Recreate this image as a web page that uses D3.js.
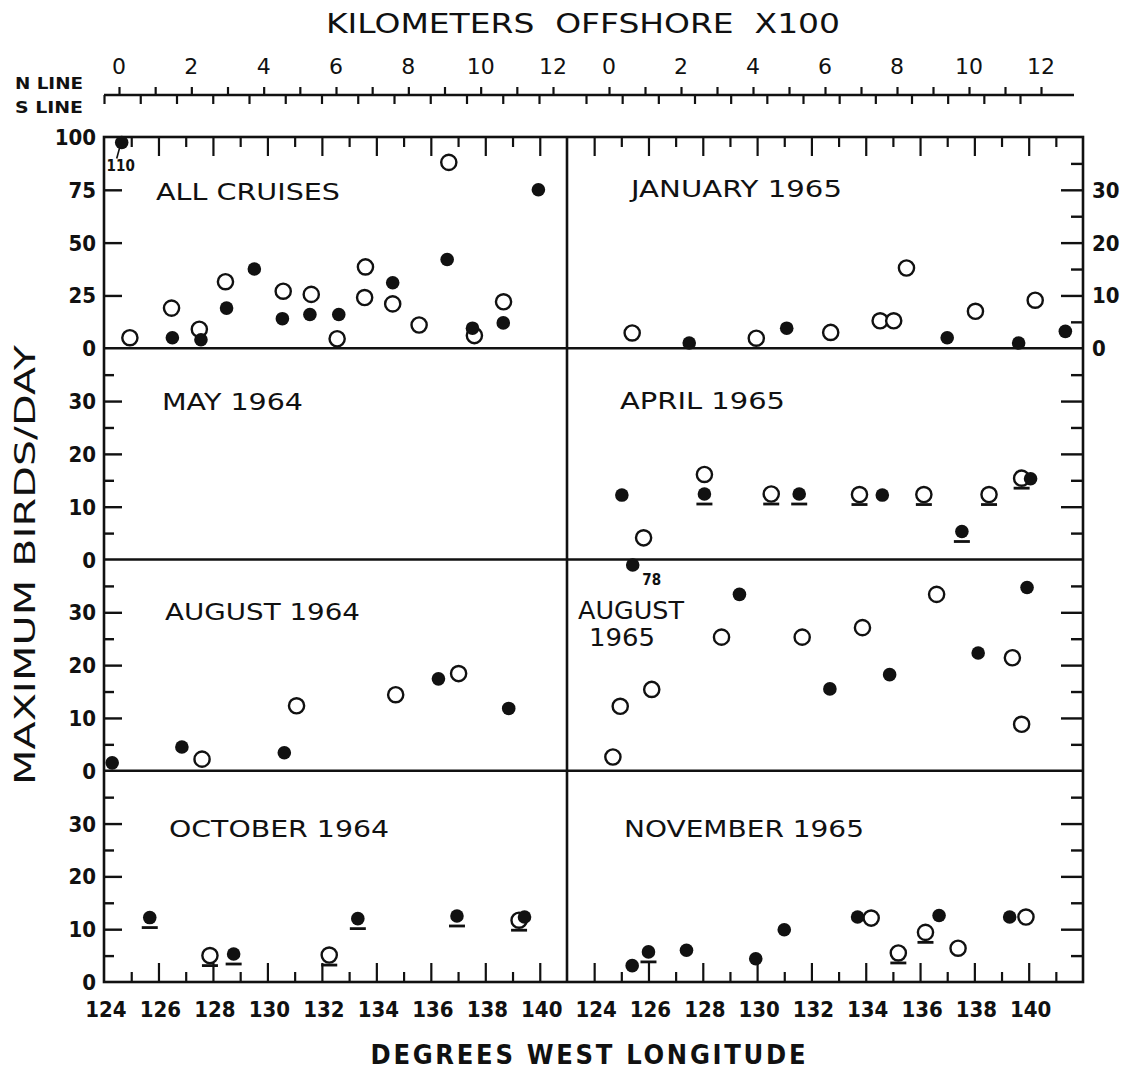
<!DOCTYPE html>
<html><head><meta charset="utf-8">
<script src="https://cdn.jsdelivr.net/npm/d3@7/dist/d3.min.js"></script>
<style>
html,body{margin:0;padding:0;background:#fff}
svg{display:block}
.cond{font-family:"DejaVu Sans Condensed","Liberation Sans Narrow","DejaVu Sans",sans-serif;font-stretch:condensed;font-weight:bold;fill:#111}
.thin{font-family:"DejaVu Sans","Liberation Sans",sans-serif;font-weight:normal;fill:#111}
</style></head><body>
<svg id="c" width="1129" height="1072" xmlns="http://www.w3.org/2000/svg"></svg>
<script>
// ---------------- DATA ----------------
// point: [degrees west longitude, maximum birds/day, symbol ('o' open / 'f' filled), underline bar (1/0)]
const allCruises = [
  [124.65,110,'f',0],[124.95,5,'o',0],[126.48,19,'o',0],[126.51,5,'f',0],
  [127.50,9,'o',0],[127.56,4,'f',0],[128.46,31.5,'o',0],[128.50,19,'f',0],
  [129.52,37.5,'f',0],[130.58,27,'o',0],[130.55,14,'f',0],[131.61,25.5,'o',0],
  [131.56,16,'f',0],[132.62,16,'f',0],[132.56,4.5,'o',0],[133.60,38.5,'o',0],
  [133.57,24,'o',0],[134.60,31,'f',0],[134.60,21,'o',0],[135.57,11,'o',0],
  [136.66,88,'o',0],[136.60,42,'f',0],[137.53,9.5,'f',0],[137.60,6,'o',0],
  [138.67,22,'o',0],[138.66,12,'f',0],[139.95,75,'f',0]
];
const january1965 = [
  [125.40,2.9,'o',0],[127.50,1.0,'f',0],[129.97,1.9,'o',0],[131.09,3.8,'f',0],
  [132.71,3.0,'o',0],[134.53,5.2,'o',0],[135.03,5.2,'o',0],[135.50,15.2,'o',0],
  [137.0,2.0,'f',0],[138.04,7.0,'o',0],[139.63,1.0,'f',0],[140.24,9.1,'o',0],
  [141.35,3.2,'f',0]
];
const may1964 = [];
const april1965 = [
  [125.02,12.2,'f',0],[125.82,4.1,'o',0],[128.06,16.1,'o',0],[128.06,12.4,'f',1],
  [130.52,12.4,'o',1],[131.55,12.4,'f',1],[133.77,12.3,'o',1],[134.61,12.2,'f',0],
  [136.14,12.3,'o',1],[137.54,5.3,'f',1],[138.54,12.3,'o',1],[139.74,15.4,'o',1],
  [140.07,15.3,'f',0]
];
const august1964 = [
  [124.30,1.5,'f',0],[126.86,4.5,'f',0],[127.60,2.2,'o',0],[130.62,3.4,'f',0],
  [131.07,12.3,'o',0],[134.71,14.4,'o',0],[136.28,17.4,'f',0],[137.02,18.4,'o',0],
  [138.86,11.8,'f',0]
];
const august1965 = [
  [125.42,78,'f',0],[129.35,33.4,'f',0],[136.61,33.4,'o',0],[139.94,34.7,'f',0],
  [128.69,25.3,'o',0],[131.66,25.3,'o',0],[133.88,27.1,'o',0],[138.14,22.3,'f',0],
  [139.40,21.4,'o',0],[134.88,18.2,'f',0],[132.68,15.5,'f',0],[126.12,15.4,'o',0],
  [124.96,12.2,'o',0],[139.74,8.8,'o',0],[124.69,2.6,'o',0]
];
const october1964 = [
  [125.68,12.2,'f',1],[127.89,5.0,'o',1],[128.76,5.3,'f',1],[132.27,5.1,'o',1],
  [133.32,12.0,'f',1],[136.96,12.5,'f',1],[139.24,11.7,'o',1],[139.44,12.3,'f',0]
];
const november1965 = [
  [125.40,3.1,'f',0],[126.0,5.7,'f',1],[127.40,6.0,'f',0],[129.95,4.4,'f',0],
  [131.0,9.9,'f',0],[133.70,12.3,'f',0],[134.20,12.1,'o',0],[135.20,5.5,'o',1],
  [136.20,9.4,'o',1],[136.70,12.6,'f',0],[137.40,6.4,'o',0],[139.30,12.3,'f',0],
  [139.90,12.3,'o',0]
];
const panelTitles = ["ALL CRUISES","JANUARY 1965","MAY 1964","APRIL 1965","AUGUST 1964",["AUGUST","1965"],"OCTOBER 1964","NOVEMBER 1965"];
const lonTickLabels = [124,126,128,130,132,134,136,138,140];
const kmTickLabels = [0,2,4,6,8,10,12];
const allCruisesTickLabels = [0,25,50,75,100];
const monthTickLabels = [0,10,20,30];
const januaryRightTickLabels = [0,10,20,30];

// ---------------- LAYOUT ----------------
const svg = d3.select('#c');
const L=104, D=567, R=1083, T=137, B=982, H=(B-T)/4;
const xL = d3.scaleLinear().domain([124,141]).range([L,D]);
const xR = d3.scaleLinear().domain([123,142]).range([D,R]);
const rowTop = i => T + i*H;
const yScale = (row,max) => d3.scaleLinear().domain([0,max]).range([rowTop(row)+H,rowTop(row)]);
const INK = '#111';

const panels = [
  {data:allCruises,  row:0,col:0,max:100,title:panelTitles[0],tx:156,ty:200,tw:184},
  {data:january1965, row:0,col:1,max:40, title:panelTitles[1],tx:631,ty:197,tw:211},
  {data:may1964,     row:1,col:0,max:40, title:panelTitles[2],tx:162,ty:410,tw:141},
  {data:april1965,   row:1,col:1,max:40, title:panelTitles[3],tx:620,ty:409,tw:165},
  {data:august1964,  row:2,col:0,max:40, title:panelTitles[4],tx:165,ty:620,tw:195},
  {data:august1965,  row:2,col:1,max:40, title:panelTitles[5],tx:578,ty:619,tw:106},
  {data:october1964, row:3,col:0,max:40, title:panelTitles[6],tx:169,ty:837,tw:220},
  {data:november1965,row:3,col:1,max:40, title:panelTitles[7],tx:624,ty:837,tw:240}
];

// ---------- frame ----------
const frame = svg.append('g').attr('stroke',INK).attr('fill','none').attr('stroke-width',2.6);
frame.append('rect').attr('x',L).attr('y',T).attr('width',R-L).attr('height',B-T);
frame.append('line').attr('x1',D).attr('x2',D).attr('y1',T).attr('y2',B);
[1,2,3].forEach(i=>frame.append('line').attr('x1',L).attr('x2',R).attr('y1',rowTop(i)).attr('y2',rowTop(i)));

// ---------- longitude ticks (top & bottom, inside) ----------
function lonTicks(scale, vals){
  const gb = svg.append('g').attr('transform',`translate(0,${B})`)
    .call(d3.axisTop(scale).tickValues(vals).tickSize(19).tickFormat(''));
  gb.select('.domain').remove();
  gb.selectAll('.tick line').attr('y2',d=>d%2?-10:-19).attr('stroke',INK).attr('stroke-width',2.2);
  const gt = svg.append('g').attr('transform',`translate(0,${T})`)
    .call(d3.axisBottom(scale).tickValues(vals).tickSize(19).tickFormat(''));
  gt.select('.domain').remove();
  gt.selectAll('.tick line').attr('y2',d=>d%2?10:19).attr('stroke',INK).attr('stroke-width',2.2);
}
lonTicks(xL, d3.range(125,141));
lonTicks(xR, d3.range(124,142));
[xL,xR].forEach(sc=>{
  svg.append('g').selectAll('text').data(lonTickLabels).join('text')
    .attr('class','cond').attr('x',d=>sc(d)+2).attr('y',1017)
    .attr('text-anchor','middle').attr('font-size',22).text(d=>d);
});

// ---------- y ticks ----------
panels.forEach(p=>{
  const y = yScale(p.row,p.max);
  const minorVals = p.max===100 ? [25,50,75] : d3.range(5,40,5);
  const isLong = v => p.max===100 ? true : v%10===0;
  if(p.col===0){
    const g = svg.append('g').attr('transform',`translate(${L},0)`)
      .call(d3.axisRight(y).tickValues(minorVals).tickSize(18).tickFormat(''));
    g.select('.domain').remove();
    g.selectAll('.tick line').attr('x2',d=>isLong(d)?18:10).attr('stroke',INK).attr('stroke-width',2.4);
    const labels = (p.max===100 ? allCruisesTickLabels : monthTickLabels);
    svg.append('g').selectAll('text').data(labels).join('text')
      .attr('class','cond').attr('x',L-8).attr('y',d=>y(d)+8)
      .attr('text-anchor','end').attr('font-size',22).text(d=>d);
  } else {
    const g = svg.append('g').attr('transform',`translate(${R},0)`)
      .call(d3.axisLeft(y).tickValues(minorVals).tickSize(22).tickFormat(''));
    g.select('.domain').remove();
    g.selectAll('.tick line').attr('x2',d=>isLong(d)?-22:-12).attr('stroke',INK).attr('stroke-width',2.4);
    if(p.row===0){
      svg.append('g').selectAll('text').data(januaryRightTickLabels).join('text')
        .attr('class','cond').attr('x',R+9).attr('y',d=>y(d)+8)
        .attr('text-anchor','start').attr('font-size',22).text(d=>d);
    }
  }
});

// ---------- panel titles ----------
panels.forEach(p=>{
  if(Array.isArray(p.title)){
    svg.append('text').attr('class','thin').attr('x',p.tx).attr('y',p.ty).attr('font-size',24)
      .attr('textLength',p.tw).attr('lengthAdjust','spacingAndGlyphs').text(p.title[0]);
    svg.append('text').attr('class','thin').attr('x',p.tx+11).attr('y',p.ty+27).attr('font-size',24)
      .attr('textLength',66).attr('lengthAdjust','spacingAndGlyphs').text(p.title[1]);
  } else {
    svg.append('text').attr('class','thin').attr('x',p.tx).attr('y',p.ty).attr('font-size',23)
      .attr('textLength',p.tw).attr('lengthAdjust','spacingAndGlyphs').text(p.title);
  }
});

// ---------- points ----------
panels.forEach(p=>{
  const x = p.col ? xR : xL, y = yScale(p.row,p.max);
  const cap = p.max*0.974;
  const py = d => y(Math.min(d[1],cap));
  const g = svg.append('g');
  g.selectAll('line.bar').data(p.data.filter(d=>d[3])).join('line').attr('class','bar')
    .attr('x1',d=>x(d[0])-8).attr('x2',d=>x(d[0])+8).attr('y1',d=>py(d)+10).attr('y2',d=>py(d)+10)
    .attr('stroke',INK).attr('stroke-width',2.8);
  g.selectAll('circle.o').data(p.data.filter(d=>d[2]==='o')).join('circle').attr('class','o')
    .attr('cx',d=>x(d[0])).attr('cy',py).attr('r',7.6)
    .attr('fill','#fff').attr('stroke',INK).attr('stroke-width',2.4);
  g.selectAll('circle.f').data(p.data.filter(d=>d[2]==='f')).join('circle').attr('class','f')
    .attr('cx',d=>x(d[0])).attr('cy',py).attr('r',6.8).attr('fill',INK);
  // off-scale values
  p.data.filter(d=>d[1]>p.max).forEach(d=>{
    const cx = x(d[0]), cy = py(d);
    if(p.max===100){
      g.append('line').attr('x1',cx-2).attr('y1',cy+5).attr('x2',cx-5).attr('y2',cy+16)
        .attr('stroke',INK).attr('stroke-width',1.6);
      g.append('text').attr('class','cond').attr('x',cx-1).attr('y',cy+29)
        .attr('text-anchor','middle').attr('font-size',15).text(d[1]);
    } else {
      g.append('text').attr('class','cond').attr('x',cx+19).attr('y',cy+20)
        .attr('text-anchor','middle').attr('font-size',15).text(d[1]);
    }
  });
});

// ---------- kilometer offshore axis ----------
const kmY = 95;
const kmNL = d3.scaleLinear().domain([0,12]).range([119,553]);
const kmNR = d3.scaleLinear().domain([0,12]).range([609,1041]);
const kmSL = d3.scaleLinear().domain([0,12]).range([104,539]);
const kmSR = d3.scaleLinear().domain([0,12]).range([586,1020]);
svg.append('line').attr('x1',104).attr('x2',1074).attr('y1',kmY).attr('y2',kmY)
  .attr('stroke',INK).attr('stroke-width',2.6);
[kmNL,kmNR].forEach(sc=>{
  const g = svg.append('g').attr('transform',`translate(0,${kmY})`)
    .call(d3.axisTop(sc).tickValues(d3.range(0,13)).tickSize(8).tickFormat(''));
  g.select('.domain').remove();
  g.selectAll('.tick line').attr('stroke',INK).attr('stroke-width',2.2);
  svg.append('g').selectAll('text').data(kmTickLabels).join('text')
    .attr('class','thin').attr('x',d=>sc(d)).attr('y',74).attr('text-anchor','middle')
    .attr('font-size',22).text(d=>d);
});
[kmSL,kmSR].forEach(sc=>{
  const g = svg.append('g').attr('transform',`translate(0,${kmY})`)
    .call(d3.axisBottom(sc).tickValues(d3.range(0,13)).tickSize(9).tickFormat(''));
  g.select('.domain').remove();
  g.selectAll('.tick line').attr('stroke',INK).attr('stroke-width',2.2);
});
svg.append('text').attr('class','cond').attr('x',15).attr('y',89).attr('font-size',16)
  .attr('textLength',68).attr('lengthAdjust','spacingAndGlyphs').text('N LINE');
svg.append('text').attr('class','cond').attr('x',15).attr('y',113).attr('font-size',16)
  .attr('textLength',68).attr('lengthAdjust','spacingAndGlyphs').text('S LINE');
svg.append('text').attr('class','thin').attr('x',326).attr('y',33).attr('font-size',27)
  .attr('textLength',514).attr('lengthAdjust','spacingAndGlyphs').attr('xml:space','preserve')
  .text('KILOMETERS  OFFSHORE  X100');

// ---------- axis titles ----------
svg.append('text').attr('class','cond').attr('x',588).attr('y',1064).attr('text-anchor','middle')
  .attr('font-size',27).attr('textLength',435).attr('lengthAdjust','spacing')
  .text('DEGREES WEST LONGITUDE');
svg.append('text').attr('class','thin').attr('transform','translate(35,565) rotate(-90)')
  .attr('text-anchor','middle').attr('font-size',28).attr('textLength',440)
  .attr('lengthAdjust','spacingAndGlyphs').text('MAXIMUM BIRDS/DAY');
</script>
</body></html>
